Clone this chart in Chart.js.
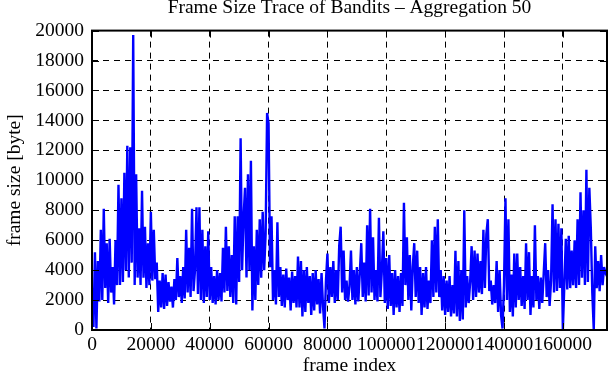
<!DOCTYPE html>
<html>
<head>
<meta charset="utf-8">
<script src="https://cdn.jsdelivr.net/npm/chart.js@4"></script>
<style>
  html, body { margin: 0; padding: 0; background: #ffffff; }
  #wrap { width: 611px; height: 380px; position: relative; }
</style>
</head>
<body>
<div id="wrap"><canvas id="c" width="611" height="380"></canvas></div>
<script>
// ---- data ----
const chartTitle = "Frame Size Trace of Bandits \u2013 Aggregation 50";
const xTitle = "frame index";
const yTitle = "frame size [byte]";
const frameStep = 500; // one sample every 500 frames
const frameSizes = [
  2500,200,5200,100,4600,1900,6700,2000,8100,2800,
  5800,1800,6100,2500,4200,1700,6000,3000,9700,3000,
  8800,3200,10500,4000,12300,3500,12200,4500,19700,3000,
  10400,3500,6800,3000,9300,3500,6900,2800,5800,3000,
  7900,3300,6700,3400,4500,1200,3300,1500,3800,1400,
  3700,1600,3200,1900,2900,1500,3400,2000,4800,2200,
  3600,1800,4200,2100,6700,2500,5500,2200,8100,2600,
  4000,8200,2400,8200,2000,6700,1800,5600,2200,6600,
  2000,4200,1800,3600,1700,4000,2000,3800,1900,5500,
  2500,6900,2600,5600,2200,5000,1800,7600,1700,7600,
  3200,12800,4000,7500,9500,3500,10400,4000,11300,1300,
  5600,2000,6700,3000,7400,3500,7900,4000,6400,14500,
  13800,4200,7600,2000,4000,1700,7200,2200,4200,1600,
  3700,1500,4100,2000,3500,1300,3900,1800,3600,1500,
  4900,1500,4600,900,4000,1200,4200,1800,3600,1000,
  3800,1300,4000,1700,3400,1100,3800,1600,100,3300,
  5100,1800,4200,2200,4600,1800,4000,2000,5600,6900,
  2500,5300,2000,3300,1900,2900,5300,2000,4000,1700,
  4200,1900,3800,5800,2200,4500,1900,7000,2300,8100,
  2500,6200,2000,4000,1900,7500,2200,4000,6600,1800,
  4800,1400,5000,1600,3800,1000,4000,1500,3600,1200,
  3800,1600,8500,3000,6200,2000,5000,1300,4200,5800,
  2200,5300,1800,4200,1000,3800,1500,4200,1400,3300,
  1800,6000,2200,6900,2500,7400,2200,4000,1300,3600,
  1000,3300,1200,3600,900,3000,1100,5300,900,4600,
  600,4000,700,8000,1500,3600,1800,3200,5600,2000,
  5300,2200,5100,2500,4600,2400,6700,2800,6400,7400,
  2600,3300,1700,3000,1800,4600,1200,4000,1000,100,
  3000,8800,2000,7400,1200,3700,900,5100,1500,5100,
  2000,4200,1600,3600,1400,5800,2000,5200,1000,3600,
  1500,7000,2000,3600,1400,3500,1800,3800,5800,2200,
  4000,1600,3300,8400,2500,7400,2600,7100,2800,6800,
  0,3000,6100,2700,6300,2800,5300,3000,6000,2800,
  7400,3000,9200,3500,8000,3000,10700,3200,9500,6800,
  2500,0,5600,2800,4600,2600,5000,3000,4200,3800,
  3600
];
const xTicks = [0, 20000, 40000, 60000, 80000, 100000, 120000, 140000, 160000];
const yTicks = [0, 2000, 4000, 6000, 8000, 10000, 12000, 14000, 16000, 18000, 20000];
const xMax = 175000;
const yMax = 20000;

const frameIndex = frameSizes.map((_, i) => i * frameStep);
const points = frameSizes.map((v, i) => ({ x: frameIndex[i], y: v }));

const FONT = "'Liberation Serif', 'Times New Roman', serif";

// gnuplot-like frame with inward tick marks on all four sides
const framePlugin = {
  id: 'gnuFrame',
  afterDraw(chart) {
    const { ctx, chartArea: a, scales } = chart;
    ctx.save();
    ctx.strokeStyle = '#000';
    ctx.lineWidth = 1;
    const tl = 7;
    ctx.beginPath();
    xTicks.forEach(v => {
      const px = Math.round(scales.x.getPixelForValue(v)) + 0.5;
      ctx.moveTo(px, a.bottom); ctx.lineTo(px, a.bottom - tl);
      ctx.moveTo(px, a.top); ctx.lineTo(px, a.top + tl);
    });
    yTicks.forEach(v => {
      const py = Math.round(scales.y.getPixelForValue(v)) + 0.5;
      ctx.moveTo(a.left, py); ctx.lineTo(a.left + tl, py);
      ctx.moveTo(a.right, py); ctx.lineTo(a.right - tl, py);
    });
    ctx.stroke();
    ctx.lineWidth = 2;
    ctx.strokeRect(a.left, a.top, a.right - a.left, a.bottom - a.top);
    ctx.restore();
  }
};

new Chart(document.getElementById('c'), {
  type: 'line',
  data: {
    datasets: [{
      data: points,
      borderColor: '#0000ff',
      borderWidth: 2.4,
      borderJoinStyle: 'bevel',
      pointRadius: 0,
      tension: 0,
      fill: false
    }]
  },
  plugins: [framePlugin],
  options: {
    responsive: false,
    animation: false,
    layout: { padding: { left: 0, right: 4, top: 0, bottom: 0 } },
    plugins: {
      legend: { display: false },
      tooltip: { enabled: false },
      title: {
        display: true,
        text: chartTitle,
        fullSize: false,
        color: '#000',
        font: { family: FONT, size: 19.5, weight: 'normal', lineHeight: 0.8 },
        padding: { top: 0, bottom: 15 }
      }
    },
    scales: {
      x: {
        type: 'linear',
        min: 0,
        max: xMax,
        z: 1,
        afterFit: s => { s.height = 50; },
        afterBuildTicks: s => { s.ticks = xTicks.map(v => ({ value: v })); },
        grid: { display: true, color: '#000', lineWidth: 1, drawTicks: false },
        border: { display: false, dash: [6, 5] },
        ticks: {
          autoSkip: false, maxRotation: 0, padding: 3, color: '#000',
          font: { family: FONT, size: 19.5 },
          callback: v => String(v)
        },
        title: {
          display: true, text: xTitle, color: '#000',
          font: { family: FONT, size: 19.5 }, padding: { top: 0, bottom: 2 }
        }
      },
      y: {
        min: 0,
        max: yMax,
        z: 1,
        afterFit: s => { s.width = 92; },
        afterBuildTicks: s => { s.ticks = yTicks.map(v => ({ value: v })); },
        grid: { display: true, color: '#000', lineWidth: 1, drawTicks: false },
        border: { display: false, dash: [6, 5] },
        ticks: {
          padding: 8, color: '#000',
          font: { family: FONT, size: 19.5 },
          callback: v => String(v)
        },
        title: {
          display: true, text: yTitle, color: '#000',
          font: { family: FONT, size: 19.5 }, padding: { top: 3, bottom: 0 }
        }
      }
    }
  }
});
</script>
</body>
</html>
